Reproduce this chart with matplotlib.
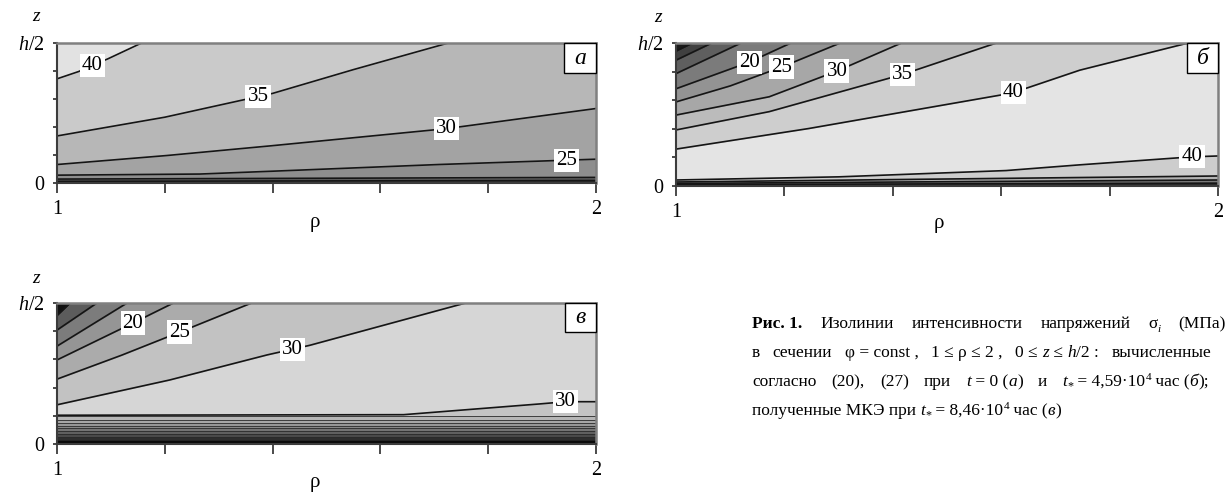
import matplotlib
matplotlib.use("Agg")
import matplotlib.pyplot as plt
import numpy as np
from matplotlib.patches import Rectangle

plt.rcParams["font.family"] = ["Liberation Serif", "DejaVu Serif"]
plt.rcParams["mathtext.fontset"] = "custom"
plt.rcParams["mathtext.rm"] = "Liberation Serif"
plt.rcParams["mathtext.it"] = "Liberation Serif:italic"

W, H = 1230, 494
ZTOP = 0.5  # z/h at the upper face

rho_ticks = [1.0, 1.2, 1.4, 1.6, 1.8, 2.0]
rho_ticklabels = ["1", "", "", "", "", "2"]
z_ticks = [0.0, 0.1, 0.2, 0.3, 0.4, 0.5]
z_ticklabels = ["0", "", "", "", "", "$h/2$"]

# (а) t = 0 : isolines sigma_i, lowest level first (rho, z/h)
a_levels = [15, 20, 25, 30, 35, 40]
a_rho = [
    [1.0, 2.0],
    [1.0, 2.0],
    [1.0, 1.265, 1.398, 1.708, 2.0],
    [1.0, 1.203, 1.398, 1.722, 2.0],
    [1.0, 1.2, 1.4, 1.55, 1.726],
    [1.0, 1.04, 1.095, 1.157],
]
a_z = [
    [0.006, 0.009],
    [0.014, 0.020],
    [0.028, 0.032, 0.042, 0.066, 0.085],
    [0.066, 0.098, 0.133, 0.194, 0.266],
    [0.168, 0.235, 0.320, 0.405, 0.5],
    [0.372, 0.398, 0.444, 0.5],
]
a_label_rho = {25: 1.946, 30: 1.722, 35: 1.373, 40: 1.065}

# (б) t* = 4.59e4 h : upper-left family (highest level first) and near z = 0
b_top_levels = [40, 35, 30, 25, 20, 15, 10, 5]
b_top_rho = [
    [1.0, 1.245, 1.62, 1.745, 1.945],
    [1.0, 1.172, 1.418, 1.591],
    [1.0, 1.172, 1.297, 1.416],
    [1.0, 1.1, 1.195, 1.303],
    [1.0, 1.135, 1.212],
    [1.0, 1.12],
    [1.0, 1.066],
    [1.0, 1.03],
]
b_top_z = [
    [0.129, 0.201, 0.325, 0.405, 0.5],
    [0.196, 0.260, 0.390, 0.5],
    [0.248, 0.312, 0.402, 0.5],
    [0.294, 0.350, 0.416, 0.5],
    [0.340, 0.433, 0.5],
    [0.393, 0.5],
    [0.440, 0.5],
    [0.472, 0.5],
]
b_top_label_rho = {40: 1.622, 35: 1.418, 30: 1.297, 25: 1.195, 20: 1.135}
b_bot_levels = [40, 35, 30, 25]
b_bot_rho = [
    [1.0, 1.3, 1.609, 1.745, 1.952, 2.0],
    [1.0, 2.0],
    [1.0, 2.0],
    [1.0, 2.0],
]
b_bot_z = [
    [0.021, 0.032, 0.054, 0.074, 0.102, 0.105],
    [0.014, 0.035],
    [0.009, 0.021],
    [0.005, 0.010],
]
b_bot_label_rho = {40: 1.952}

# (в) FEM, t* = 8.46e4 h
v_top_levels = [30, 25, 20, 15, 10, 5]
v_top_rho = [
    [1.0, 1.209, 1.39, 1.469, 1.758],
    [1.0, 1.12, 1.228, 1.361],
    [1.0, 1.141, 1.216],
    [1.0, 1.13],
    [1.0, 1.074],
    [1.0, 1.024],
]
v_top_z = [
    [0.139, 0.227, 0.316, 0.350, 0.5],
    [0.230, 0.315, 0.397, 0.5],
    [0.298, 0.429, 0.5],
    [0.347, 0.5],
    [0.404, 0.5],
    [0.456, 0.5],
]
v_top_label_rho = {30: 1.437, 25: 1.228, 20: 1.141}
v_bot_levels = [30]
v_bot_rho = [[1.0, 1.643, 1.895, 1.944, 2.0]]
v_bot_z = [[0.102, 0.104, 0.142, 0.150, 0.150]]
v_bot_label_rho = {30: 1.944}
# thin layers near z = 0 (flat isolines)
v_layer_z = [0.098, 0.085, 0.0745, 0.064, 0.0565, 0.046, 0.0355, 0.025, 0.014]

LINE = "#151515"


def setup_axes(ax):
    ax.set_xlim(1, 2)
    ax.set_ylim(0, ZTOP)
    ax.set_xticks(rho_ticks, rho_ticklabels)
    ax.set_yticks(z_ticks, z_ticklabels)
    ax.tick_params(axis="x", direction="out", length=7, width=1.3,
                   color="#3c3c3c", pad=5, labelsize=14.5)
    ax.tick_params(axis="y", direction="out", length=3, width=1.3,
                   color="#3c3c3c", pad=6, labelsize=14.5)
    for side in ["top", "right"]:
        ax.spines[side].set_color("#808080")
        ax.spines[side].set_linewidth(1.8)
    for side in ["left", "bottom"]:
        ax.spines[side].set_color("#3c3c3c")
        ax.spines[side].set_linewidth(1.5)


def fill_above(ax, rho, z, color):
    ax.fill_between(rho, z, ZTOP, color=color, lw=0.4, ec=color)


def fill_below(ax, rho, z, color):
    ax.fill_between(rho, 0, z, color=color, lw=0.4, ec=color)


def label_line(ax, level, rho, z, rho_at):
    zl = np.interp(rho_at, rho, z)
    ax.text(rho_at, zl, str(level), ha="center", va="center", fontsize=15,
            zorder=6, bbox=dict(boxstyle="square,pad=0.1", fc="white", ec="none"))


def panel_letter(ax, letter, wpx, hpx):
    bb = ax.get_position()
    w = wpx / (bb.width * W)
    h = hpx / (bb.height * H)
    ax.add_patch(Rectangle((1 - w, 1 - h), w, h, transform=ax.transAxes,
                           fc="white", ec="black", lw=1.0, zorder=7, clip_on=False))
    ax.text(1 - w / 2, 1 - h / 2, letter, transform=ax.transAxes, ha="center",
            va="center", fontsize=17, style="italic", zorder=8)


def axis_names(ax, zx, zy, rx, ry):
    ax.text(zx, zy, "$z$", transform=ax.transAxes, ha="center", va="center", fontsize=14)
    ax.text(rx, ry, "ρ", transform=ax.transAxes, ha="center", va="center", fontsize=15)


fig = plt.figure(figsize=(W / 100, H / 100), dpi=100)
ax_a = fig.add_axes([57 / W, 1 - 183 / H, 539 / W, 140 / H])
ax_b = fig.add_axes([676 / W, 1 - 186 / H, 542 / W, 143 / H])
ax_v = fig.add_axes([57 / W, 1 - 444 / H, 539 / W, 141 / H])

# --- (а) ---
a_colors = ["#5e5e5e", "#8e8e8e", "#a3a3a3", "#b7b7b7", "#cacaca", "#e2e2e2"]
ax_a.axhspan(0, ZTOP, color="#1c1c1c", lw=0)
for rho, z, c in zip(a_rho, a_z, a_colors):
    fill_above(ax_a, rho, z, c)
for lev, rho, z in zip(a_levels, a_rho, a_z):
    ax_a.plot(rho, z, color=LINE, lw=1.2)
    if lev in a_label_rho:
        label_line(ax_a, lev, rho, z, a_label_rho[lev])

# --- (б) ---
b_top_colors = ["#cecece", "#bbbbbb", "#a7a7a7", "#939393", "#7b7b7b",
                "#5f5f5f", "#404040", "#1a1a1a"]
b_bot_colors = ["#cdcdcd", "#b2b2b2", "#7a7a7a", "#2a2a2a"]
ax_b.axhspan(0, ZTOP, color="#e4e4e4", lw=0)
for rho, z, c in zip(b_top_rho, b_top_z, b_top_colors):
    fill_above(ax_b, rho, z, c)
for rho, z, c in zip(b_bot_rho, b_bot_z, b_bot_colors):
    fill_below(ax_b, rho, z, c)
for lev, rho, z in zip(b_top_levels, b_top_rho, b_top_z):
    ax_b.plot(rho, z, color=LINE, lw=1.2)
    if lev in b_top_label_rho:
        label_line(ax_b, lev, rho, z, b_top_label_rho[lev])
for lev, rho, z in zip(b_bot_levels, b_bot_rho, b_bot_z):
    ax_b.plot(rho, z, color=LINE, lw=1.2)
    if lev in b_bot_label_rho:
        label_line(ax_b, lev, rho, z, b_bot_label_rho[lev])

# --- (в) ---
v_top_colors = ["#c2c2c2", "#ababab", "#959595", "#7c7c7c", "#5c5c5c", "#111111"]
v_layer_colors = ["#b6b6b6", "#a6a6a6", "#969696", "#868686", "#747474",
                  "#606060", "#4a4a4a", "#2e2e2e", "#0a0a0a"]
ax_v.axhspan(0, ZTOP, color="#d6d6d6", lw=0)
for rho, z, c in zip(v_top_rho, v_top_z, v_top_colors):
    fill_above(ax_v, rho, z, c)
for rho, z in zip(v_bot_rho, v_bot_z):
    fill_below(ax_v, rho, z, "#c4c4c4")
for zl, c in zip(v_layer_z, v_layer_colors):
    fill_below(ax_v, [1.0, 2.0], [zl, zl], c)
    ax_v.plot([1.0, 2.0], [zl, zl], color="#2a2a2a", lw=0.6)
for lev, rho, z in zip(v_top_levels, v_top_rho, v_top_z):
    ax_v.plot(rho, z, color=LINE, lw=1.2)
    if lev in v_top_label_rho:
        label_line(ax_v, lev, rho, z, v_top_label_rho[lev])
for lev, rho, z in zip(v_bot_levels, v_bot_rho, v_bot_z):
    ax_v.plot(rho, z, color=LINE, lw=1.2)
    if lev in v_bot_label_rho:
        label_line(ax_v, lev, rho, z, v_bot_label_rho[lev])

for ax in (ax_a, ax_b, ax_v):
    setup_axes(ax)

panel_letter(ax_a, "а", 32, 30)
panel_letter(ax_b, "б", 31, 30)
panel_letter(ax_v, "в", 31, 29)

axis_names(ax_a, -0.037, 1.186, 0.478, -0.279)
axis_names(ax_b, -0.031, 1.175, 0.485, -0.259)
axis_names(ax_v, -0.037, 1.177, 0.478, -0.270)

# --- caption, justified lines built from styled runs ---
renderer = fig.canvas.get_renderer()
FS = 12.5
STYLES = {
    "r": (dict(size=FS), 0),
    "b": (dict(size=FS, weight="bold"), 0),
    "i": (dict(size=FS, style="italic"), 0),
    "isub": (dict(size=FS * 0.65, style="italic"), -3.5),
    "sub": (dict(size=FS * 0.7), -3),
    "sup": (dict(size=FS * 0.65), 6),
}


def run_width(text, props):
    probe = fig.text(0, 0, "|" + text + "|", **props)
    bar = fig.text(0, 0, "|", **props)
    w = (probe.get_window_extent(renderer).width
         - 2 * bar.get_window_extent(renderer).width)
    probe.remove()
    bar.remove()
    return w


def chunk_width(chunk):
    return sum(run_width(t, STYLES[k][0]) for t, k in chunk)


def draw_chunk(chunk, x, y):
    for t, k in chunk:
        props, dy = STYLES[k]
        fig.text(x / W, 1 - (y - dy) / H, t, va="baseline", ha="left", **props)
        x += run_width(t, props)
    return x


def draw_line(chunks, x0, y, x1=None):
    widths = [chunk_width(c) for c in chunks]
    if x1 is None or len(chunks) == 1:
        gap = run_width(" ", STYLES["r"][0])
    else:
        gap = (x1 - x0 - sum(widths)) / (len(chunks) - 1)
    x = x0
    for c, w in zip(chunks, widths):
        draw_chunk(c, x, y)
        x += w + gap


cap1 = [
    [("Рис. 1.", "b")],
    [("Изолинии", "r")],
    [("интенсивности", "r")],
    [("напряжений", "r")],
    [("σ", "r"), ("i", "isub")],
    [("(МПа)", "r")],
]
cap2 = [
    [("в", "r")],
    [("сечении", "r")],
    [("φ = const ,", "r")],
    [("1 ≤ ρ ≤ 2 ,", "r")],
    [("0 ≤ ", "r"), ("z", "i"), (" ≤ ", "r"), ("h", "i"), ("/2 :", "r")],
    [("вычисленные", "r")],
]
cap3 = [
    [("согласно", "r")],
    [("(20),", "r")],
    [("(27)", "r")],
    [("при", "r")],
    [("t", "i"), (" = 0 (", "r"), ("а", "i"), (")", "r")],
    [("и", "r")],
    [("t", "i"), ("*", "sub"), (" = 4,59·10", "r"), ("4", "sup"),
     (" час (", "r"), ("б", "i"), (");", "r")],
]
cap4 = [
    [("полученные МКЭ при ", "r"), ("t", "i"), ("*", "sub"), (" = 8,46·10", "r"),
     ("4", "sup"), (" час (", "r"), ("в", "i"), (")", "r")],
]

draw_line(cap1, 752, 328, 1226)
draw_line(cap2, 752, 357, 1211)
draw_line(cap3, 752, 386, 1209)
draw_line(cap4, 752, 415)

fig.savefig("out.png", dpi=100)
